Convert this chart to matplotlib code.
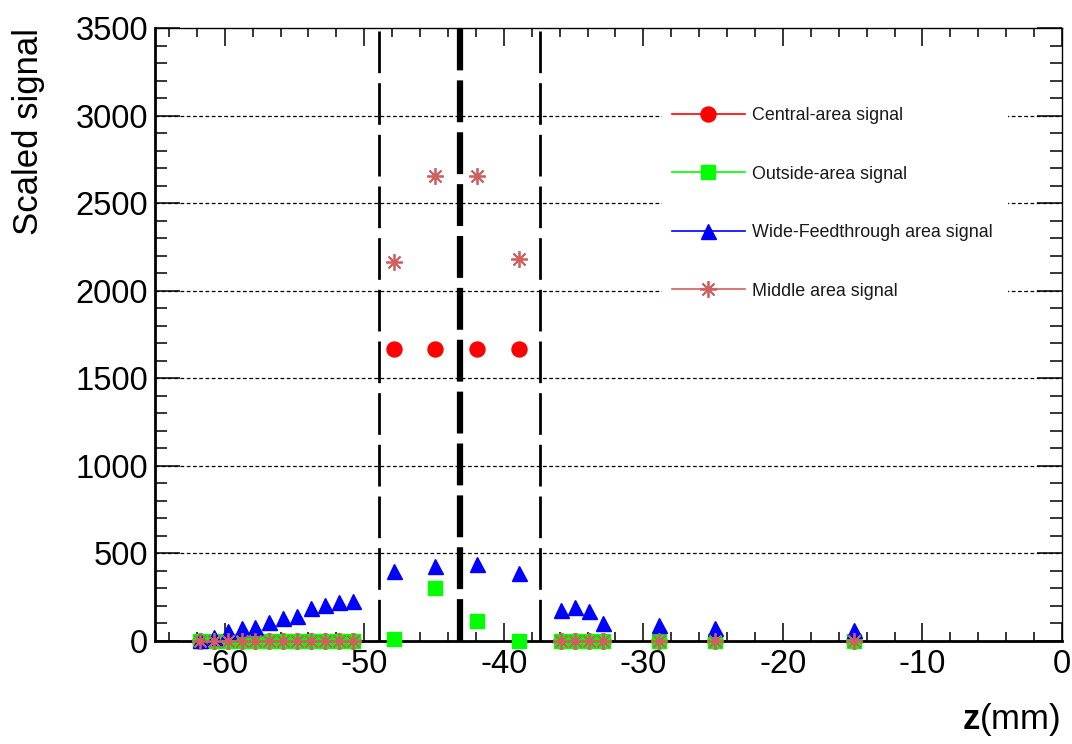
import matplotlib
matplotlib.use("Agg")
import matplotlib.pyplot as plt
from matplotlib.lines import Line2D
from matplotlib.patches import Rectangle
from matplotlib.ticker import MultipleLocator

plt.rcParams['font.family'] = ['Liberation Sans', 'DejaVu Sans']
plt.rcParams['mathtext.fontset'] = 'custom'
plt.rcParams['mathtext.bf'] = 'Liberation Sans:bold'
plt.rcParams['mathtext.rm'] = 'Liberation Sans'
plt.rcParams['axes.unicode_minus'] = False

# z positions (mm)
z = [-61.8, -60.8, -59.8, -58.8, -57.8, -56.8, -55.8, -54.8, -53.8, -52.8, -51.8, -50.8,
     -47.9, -44.9, -41.9, -38.9,
     -35.9, -34.9, -33.9, -32.9, -28.9, -24.9, -14.9]

central = [0, 0, 0, 0, 0, 0, 0, 0, 0, 0, 0, 0,
           1670, 1670, 1670, 1670,
           0, 0, 0, 0, 0, 0, 0]
outside = [0, 0, 0, 0, 0, 0, 0, 0, 0, 0, 0, 0,
           12, 300, 115, 2,
           0, 0, 0, 0, 0, 0, 0]
wide = [8, 21, 55, 74, 78, 108, 131, 145, 188, 204, 221, 226,
        400, 428, 440, 390,
        177, 194, 171, 103, 90, 75, 65]
middle = [0, 0, 0, 0, 0, 0, 0, 0, 0, 0, 0, 0,
          2165, 2655, 2655, 2180,
          0, 0, 0, 0, 0, 0, 0]

labels = ['Central-area signal', 'Outside-area signal',
          'Wide-Feedthrough area signal', 'Middle area signal']

# boundaries (dashed verticals)
z_edges = [-48.92, -37.4]
z_center = -43.14

star_col = '#d25f5f'
star = (8, 2, 0)

fig = plt.figure(figsize=(10.72, 7.44), dpi=100)
ax = fig.add_axes([155/1072, 1 - 641/744, (1062 - 155)/1072, (641 - 28)/744])
ax.set_xlim(-65, 0)
ax.set_ylim(0, 3500)

# horizontal grid
for yv in [500, 1000, 1500, 2000, 2500, 3000]:
    ax.axhline(yv, color='black', lw=0.9, linestyle=(0, (3, 2)), zorder=1)

# white patch behind legend (hides grid there)
fig.patches.append(Rectangle((662/1072, 1 - 318/744), 346/1072, 228/744,
                             transform=fig.transFigure, facecolor='white',
                             edgecolor='none', zorder=2))

for zv in z_edges:
    ax.axvline(zv, color='black', lw=2.0, linestyle=(0, (15, 3.6)), zorder=3)
ax.axvline(z_center, color='black', lw=4.5, linestyle=(0, (6.7, 1.6)), zorder=3)

ax.plot(z, central, ls='none', marker='o', ms=10.8, color='#ff0000',
        mec='#ff0000', clip_on=False, zorder=5)
ax.plot(z, outside, ls='none', marker='s', ms=10, color='#00ff00',
        mec='#00ff00', clip_on=False, zorder=6)
ax.plot(z, wide, ls='none', marker='^', ms=10.8, color='#0000ff',
        mec='#0000ff', clip_on=False, zorder=7)
ax.plot(z, middle, ls='none', marker=star, ms=12, color=star_col,
        mec=star_col, mew=1.3, clip_on=False, zorder=8)

handles = [
    Line2D([], [], color='#ff0000', lw=1.2, marker='o', ms=10.8),
    Line2D([], [], color='#00ff00', lw=1.2, marker='s', ms=10),
    Line2D([], [], color='#0000ff', lw=1.2, marker='^', ms=10.8),
    Line2D([], [], color=star_col, lw=1.2, marker=star, ms=12, mew=1.3),
]
leg = fig.legend(handles, labels, loc='upper left',
                 bbox_to_anchor=(672/1072, 1 - 107/744), frameon=False,
                 fontsize=12.9, handlelength=4.05, handletextpad=0.4,
                 labelspacing=2.32, borderpad=0, borderaxespad=0)
for t in leg.get_texts():
    t.set_color('#1a1a1a')
leg.set_zorder(10)

# axes / ticks in ROOT style
ax.xaxis.set_major_locator(MultipleLocator(10))
ax.xaxis.set_minor_locator(MultipleLocator(2))
ax.yaxis.set_major_locator(MultipleLocator(500))
ax.yaxis.set_minor_locator(MultipleLocator(100))
ax.tick_params(axis='both', which='both', direction='in', top=True, right=True,
               width=1.1, labelsize=23.5)
ax.tick_params(axis='x', which='major', length=13, pad=6)
ax.tick_params(axis='x', which='minor', length=6.5)
ax.tick_params(axis='y', which='major', length=18, pad=5)
ax.tick_params(axis='y', which='minor', length=8.6)
ax.spines['left'].set_linewidth(2)
ax.spines['bottom'].set_linewidth(2)
ax.spines['top'].set_linewidth(1)
ax.spines['right'].set_linewidth(1)

fig.text(29/1072, 1 - 28/744, 'Scaled signal', rotation=90, ha='center',
         va='top', fontsize=25)
fig.text(1060/1072, 1 - 720/744, r'$\mathbf{z}$(mm)', ha='right',
         va='center', fontsize=25)

fig.savefig('out.png', dpi=100)
